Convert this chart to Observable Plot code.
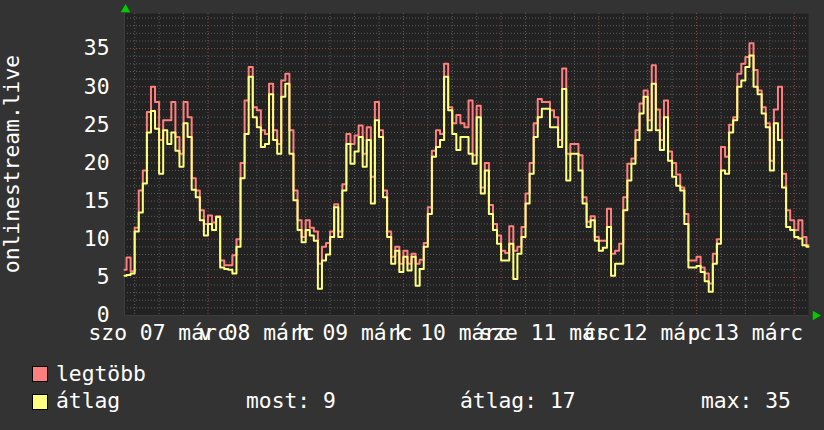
<!DOCTYPE html>
<html><head><meta charset="utf-8">
<script src="https://cdn.jsdelivr.net/npm/d3@7"></script>
<script src="https://cdn.jsdelivr.net/npm/@observablehq/plot@0.6"></script>
<style>
body{margin:0;background:#333333;}
#wrap{position:relative;width:824px;height:430px;background:#333333;font-family:"DejaVu Sans Mono",monospace;font-size:21.33px;color:#ffffff;overflow:hidden}
#wrap svg{position:absolute;left:0;top:0}
.t{position:absolute;line-height:21.33px;white-space:pre}
.sw{position:absolute;width:16px;height:16px;border:1px solid #000;box-sizing:border-box}
</style></head><body><div id="wrap"></div>
<script>
// hourly samples starting 2020-03-07 03:30
const startTime = Date.UTC(2020, 2, 7, 3, 30);
const avgValues = [
 5.2,5.3,5.5,11,13.5,17.3,24,26.8,24.5,18.6,24.3,22.5,24,21.6,19.5,25.2,23.4,16.5,15.5,12.5,10.5,12,11.2,12.9,
 6.3,6.1,6.0,5.5,9,18,23.8,31.3,26,24.7,22.1,22.5,29,23,21.2,28.7,30.4,21.2,15.1,11.2,9.6,11.2,10.5,9.8,
 3.5,7.2,8,10.3,14.2,10.3,16.4,22.5,19.9,21.5,23.4,19.5,23,14.7,25.6,23.4,15.5,10.3,6.8,8.5,5.7,7.7,5.9,7.7,
 3.9,6.1,9,13.3,20.8,22.1,23,31.3,26.9,23.8,21.7,23.4,23.4,21.2,19.9,26,16,19,13.3,11.2,9.4,7.2,7.2,9.4,
 4.8,8.1,10.3,14.7,18.6,23.4,26,27.1,27.1,24.7,24.7,22.1,29.7,17.7,21.2,21.2,19,14.7,11.6,12.5,9.8,8.5,8.9,11.6,
 5.2,6.8,6.8,13.8,17.7,19.9,23,26.5,28.7,24.3,30.4,24.3,21.7,26,20.3,18.2,17,16.4,12,6.3,6.3,6.5,5.7,4.5,
 3.1,6.8,9.4,19,18.6,24,25.6,30,30.8,32.6,34.1,30,29,26.5,24.7,19,25.2,23,16.8,11.6,11.2,10.3,10.1,9.2,
 9
];
const maxValues = [
 6.0,7.6,5.8,11.5,16.4,19,26.7,30,28,23,25.6,25.6,28,23.4,21.2,28,26,18,16.4,13.8,12,13.1,12.2,13,
 7.2,6.6,6.6,7.9,10,20,28.2,32.6,27.3,26.9,24.3,23.8,30.4,24.3,22.5,30.8,31.7,24.3,16.4,12.5,10.3,12.5,11.5,11,
 6.8,9,9.5,11,14.6,11,17.2,23.8,22.5,23.6,24.9,21.2,24.7,18.2,28,24.3,16.4,11,7.7,9,6.8,8.5,6.8,8.1,
 6.8,7.3,9.5,14.2,21.6,24.3,23.8,33,27.3,25.2,26.3,25.2,24.7,28.2,21,27.5,16.8,20,14.5,12,10.5,8.5,8.2,11.7,
 8.5,9,11.6,16,20,25.2,28.4,28,28,26.9,26,23,32.4,21.2,22.5,22.5,21,15.5,12.3,13,10.3,9.8,9.8,14,
 8.1,8.5,9.4,15.5,19.9,20.6,24.3,27.8,29.5,25.6,32.8,27,23,28.2,21.5,20,18.5,16.8,13.3,7.2,7.2,7.7,6.3,5.5,
 4.2,8.1,10,22.1,20.8,25,26,31.7,33,33.9,35.7,32.2,29.5,27.3,25.2,20.3,27,30,18.6,13.8,12.5,11.2,12.5,10.3,
 9.2
];
const yTicks = [0, 5, 10, 15, 20, 25, 30, 35];
const labelDays = [7, 8, 9, 10, 11, 12, 13];
const dayLabels = ["szo 07 márc", "v 08 márc", "h 09 márc", "k 10 márc", "sze 11 márc", "cs 12 márc", "p 13 márc"];
const seriesNames = ["legtöbb", "átlag"];
const seriesColors = ["#ff7f7f", "#ffff7f"];
const statLabels = ["most: 9", "átlag: 17", "max: 35"];
const yTitle = "onlinestream.live";

const hour = 3600e3;
const rows = avgValues.map((v, i) => ({t: new Date(startTime + i * hour), avg: v, max: maxValues[i]}));
const x0 = new Date(startTime), x1 = new Date(startTime + 168 * hour);
const minorY = d3.range(1, 40).filter(v => v % 5 !== 0);
const majorY = yTicks.filter(v => v > 0);
const days = d3.utcDay.range(x0, x1);
const sixH = d3.utcHour.every(6).range(x0, x1).filter(d => d.getUTCHours() !== 0);
const labels = labelDays.map((d, i) => ({t: new Date(Date.UTC(2020, 2, d, 12)), label: dayLabels[i]}));
const FS = "21.33px";

const chart = Plot.plot({
  width: 824, height: 430,
  marginLeft: 124, marginRight: 16, marginTop: 13, marginBottom: 115,
  style: {background: "transparent", color: "#ffffff", fontFamily: "DejaVu Sans Mono", fontSize: FS, overflow: "visible"},
  x: {type: "utc", domain: [x0, x1], axis: null},
  y: {domain: [0, 39.6], axis: null},
  marks: [
    Plot.frame({fill: "#222222", stroke: null}),
    Plot.ruleY(minorY, {stroke: "#5c5c5c", strokeDasharray: "1,2"}),
    Plot.ruleX(sixH, {stroke: "#5c5c5c", strokeDasharray: "1,2"}),
    Plot.ruleY(majorY, {stroke: "#8e4848", strokeDasharray: "1,2"}),
    Plot.ruleX(days, {stroke: "#8e4848", strokeDasharray: "1,2"}),
    Plot.ruleX([x0], {stroke: "#3c3c3c"}),
    Plot.ruleY([0], {stroke: "#3c3c3c"}),
    Plot.line(rows, {x: "t", y: "max", stroke: seriesColors[0], strokeWidth: 2, curve: "step"}),
    Plot.line(rows, {x: "t", y: "avg", stroke: seriesColors[1], strokeWidth: 2, curve: "step"}),
    Plot.axisY(yTicks, {anchor: "left", tickSize: 0, tickPadding: 15, tickFormat: d => String(d), fill: "#ffffff", fontSize: FS}),
    Plot.text(labels, {x: "t", text: "label", frameAnchor: "bottom", lineAnchor: "top", dy: 9, fill: "#ffffff", fontSize: FS}),
    Plot.dot([0], {frameAnchor: "top-left", symbol: "triangle", r: 3.5, fill: "#00cc00", dx: 1, dy: -4}),
    Plot.dot([0], {frameAnchor: "bottom-right", symbol: "triangle", r: 3.5, fill: "#00cc00", rotate: 90, dx: 7})
  ]
});

const wrap = document.getElementById("wrap");
wrap.appendChild(chart);

function addText(txt, left, top, extra) {
  const d = document.createElement("div");
  d.className = "t";
  d.textContent = txt;
  d.style.left = left + "px";
  d.style.top = top + "px";
  if (extra) Object.assign(d.style, extra);
  wrap.appendChild(d);
  return d;
}
function addSwatch(color, left, top) {
  const s = document.createElement("div");
  s.className = "sw";
  s.style.left = left + "px";
  s.style.top = top + "px";
  s.style.background = color;
  wrap.appendChild(s);
}
// y title (rotated about its top-left corner, box stays inside the page)
addText(yTitle, 1, 274, {width: "220px", textAlign: "center", height: "21.33px", transformOrigin: "0 0", transform: "rotate(-90deg)"});
// legend
addSwatch(seriesColors[0], 32, 366);
addText(seriesNames[0], 56, 362.6);
addSwatch(seriesColors[1], 32, 394);
addText(seriesNames[1], 56, 390.3);
addText(statLabels[0], 246, 390.3);
addText(statLabels[1], 460, 390.3);
addText(statLabels[2], 701, 390.3);
</script>
</body></html>
